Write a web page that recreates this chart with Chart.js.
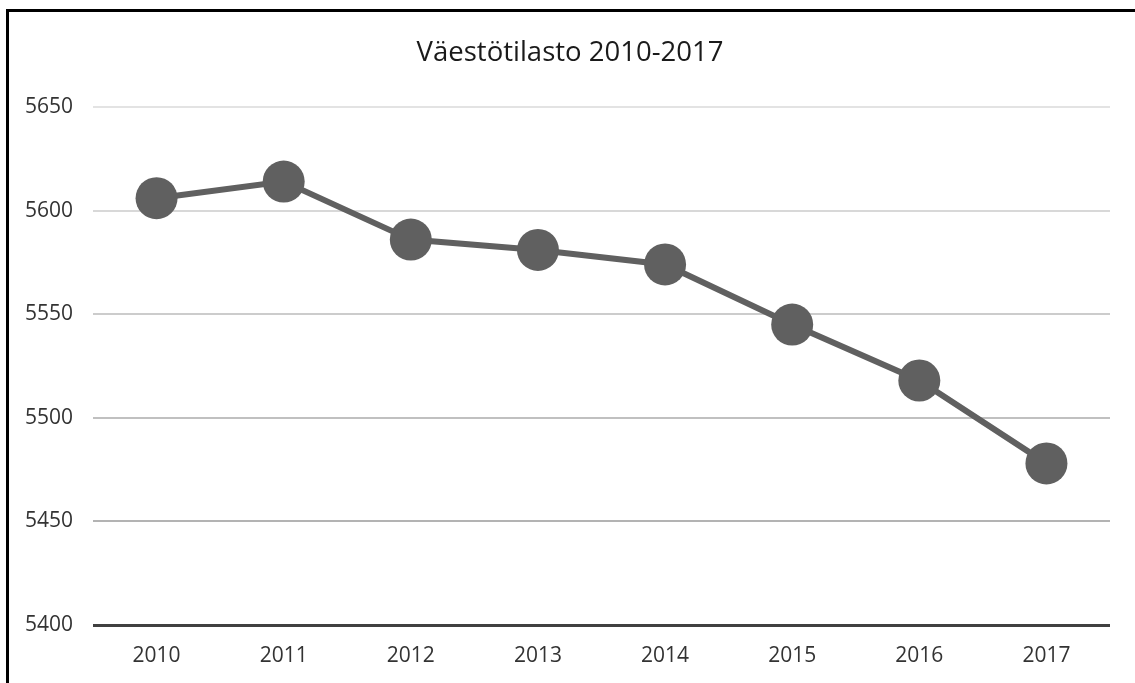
<!DOCTYPE html>
<html>
<head>
<meta charset="utf-8">
<script src="https://cdn.jsdelivr.net/npm/chart.js@4/dist/chart.umd.min.js"></script>
<style>
    html, body { margin: 0; padding: 0; background: #fff; }
    #wrap { position: relative; width: 1135px; height: 683px; }
    #frame {
        position: absolute; left: 6px; top: 9px; right: 0; bottom: 0;
        border-left: 3px solid #000; border-top: 3px solid #000;
        pointer-events: none;
    }
</style>
</head>
<body>
<div id="wrap">
    <canvas id="chart1" width="1135" height="683"></canvas>
    <div id="frame"></div>
</div>
<script>
// Population per year
const years = ["2010", "2011", "2012", "2013", "2014", "2015", "2016", "2017"];
const population = [5606, 5614, 5586, 5581, 5574, 5545, 5518, 5478];
const yTicks = [5400, 5450, 5500, 5550, 5600, 5650];
// grid lines get a bit darker towards the bottom in the original
const gridColors = ["#404040", "#b3b3b3", "#c0c0c0", "#cccccc", "#d8d8d8", "#e3e3e3"];

const lineColor = "#606060";

const chartConfig = {
    type: "line",
    data: {
        labels: years,
        datasets: [
            {
                label: "Väestö",
                data: population,
                borderColor: lineColor,
                backgroundColor: lineColor,
                borderWidth: 6,
                pointRadius: 21,
                pointHoverRadius: 21,
                pointBorderWidth: 0,
                pointBackgroundColor: lineColor,
                tension: 0
            }
        ]
    },
    options: {
        responsive: false,
        animation: false,
        layout: {
            padding: { left: 5, right: 0, top: 0, bottom: 0 }
        },
        plugins: {
            legend: { display: false },
            tooltip: { enabled: false },
            title: {
                display: true,
                text: "Väestötilasto 2010-2017",
                color: "#1a1a1a",
                font: { family: "Open Sans", size: 27.5, weight: "normal" },
                padding: { top: 37, bottom: 37 }
            }
        },
        scales: {
            x: {
                offset: true,
                grid: { display: false, drawTicks: false },
                border: { display: false },
                ticks: {
                    color: "#333333",
                    font: { family: "Open Sans", size: 21 },
                    padding: 18,
                    maxRotation: 0
                },
                afterFit: (scale) => { scale.height = 58; }
            },
            y: {
                min: 5400,
                max: 5650,
                afterBuildTicks: (scale) => {
                    scale.ticks = yTicks.map(v => ({ value: v }));
                },
                grid: {
                    drawTicks: false,
                    lineWidth: (ctx) => ctx.tick && ctx.tick.value === 5400 ? 3 : 2,
                    color: (ctx) => gridColors[ctx.index] || "#d9d9d9"
                },
                border: { display: false },
                ticks: {
                    color: "#333333",
                    font: { family: "Open Sans", size: 21 },
                    padding: 20,
                    callback: (value) => String(value)
                },
                afterFit: (scale) => { scale.width = 88; }
            },
            // empty axis on the right only to keep the right margin
            yRight: {
                position: "right",
                min: 5400,
                max: 5650,
                grid: { display: false, drawTicks: false },
                border: { display: false },
                ticks: { display: false },
                afterFit: (scale) => { scale.width = 25; }
            }
        }
    }
};

new Chart(document.getElementById("chart1"), chartConfig);
</script>
</body>
</html>
